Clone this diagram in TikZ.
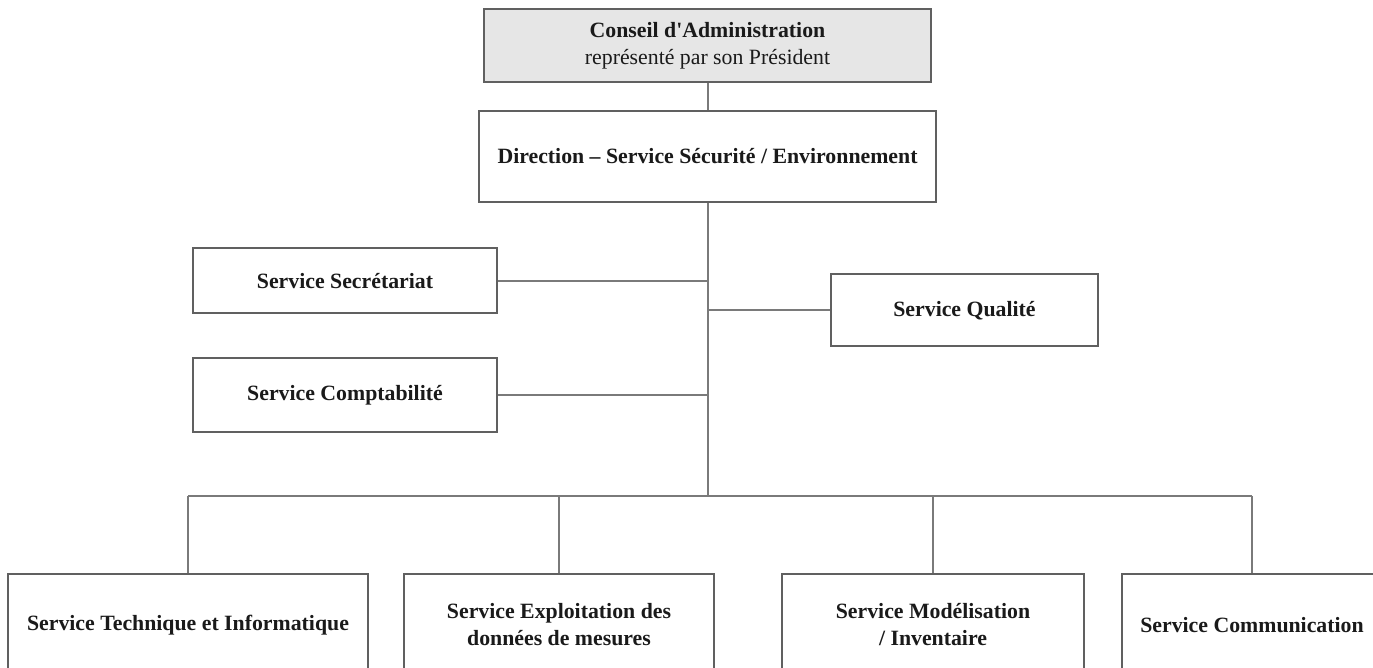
\documentclass[tikz,border=0pt]{standalone}
\usepackage{fontspec}
\setmainfont{Liberation Serif}[Ligatures=TeXOff]
\definecolor{boxline}{HTML}{606060}
\definecolor{conline}{HTML}{7A7A7A}
\definecolor{topfill}{HTML}{E6E6E6}
\definecolor{txt}{HTML}{1A1A1A}
\begin{document}
\begin{tikzpicture}[x=0.5pt,y=-0.5pt,
  box/.style={draw=boxline, line width=1pt, fill=white, inner sep=0pt, align=center,
    text=txt, font=\fontsize{10.9}{13.5}\selectfont\bfseries},
  con/.style={draw=conline, line width=1pt}]
\clip (0,0) rectangle (1373,668);
\fill[white] (0,0) rectangle (1373,668);
% nodes
\node[box, fill=topfill, minimum width=223.5pt, minimum height=36.5pt] (top) at (707.5,45.5)
  {Conseil d'Administration\\{\mdseries représenté par son Président}};
\node[box, minimum width=228.5pt, minimum height=45.5pt] (dir) at (707.5,156.5)
  {Direction – Service Sécurité / Environnement};
\node[box, minimum width=152pt, minimum height=32.5pt] (sec) at (345,281)
  {Service Secrétariat};
\node[box, minimum width=152pt, minimum height=37pt] (comp) at (345,395)
  {Service Comptabilité};
\node[box, minimum width=133.5pt, minimum height=36pt] (qual) at (964.5,310.5)
  {Service Qualité};
\node[box, minimum width=180pt, minimum height=51pt] (b1) at (188,625)
  {Service Technique et Informatique};
\node[box, minimum width=155pt, minimum height=51pt] (b2) at (559,625)
  {Service Exploitation des\\données de mesures};
\node[box, minimum width=151pt, minimum height=51pt] (b3) at (933,625)
  {Service Modélisation\\/ Inventaire};
\node[box, minimum width=130pt, minimum height=51pt] (b4) at (1252,625)
  {Service Communication};
% connectors
\coordinate (bus) at (707.5,496);
\draw[con] (top.south) -- (dir.north);
\draw[con] (dir.south) -- (bus);
\draw[con] (sec.east) -- (sec.east -| bus);
\draw[con] (comp.east) -- (comp.east -| bus);
\draw[con] (qual.west) -- (qual.west -| bus);
\draw[con] (b1.north |- bus) -- (b4.north |- bus);
\draw[con] (b1.north |- bus) -- (b1.north);
\draw[con] (b2.north |- bus) -- (b2.north);
\draw[con] (b3.north |- bus) -- (b3.north);
\draw[con] (b4.north |- bus) -- (b4.north);
\end{tikzpicture}
\end{document}
